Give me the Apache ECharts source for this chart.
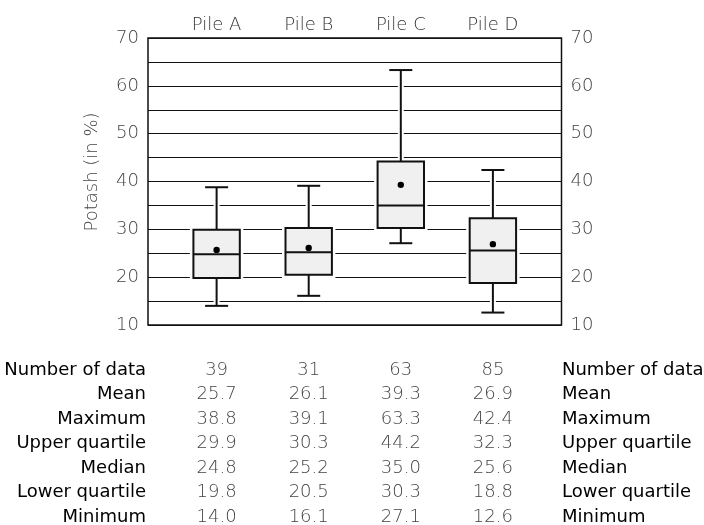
<!DOCTYPE html>
<html><head><meta charset="utf-8">
<script src="https://cdn.jsdelivr.net/npm/echarts@6/dist/echarts.min.js"></script>
<style>html,body{margin:0;padding:0;background:#fff}#c{width:704px;height:525px}</style>
</head><body><div id="c"></div>
<script>
const piles = ['Pile A', 'Pile B', 'Pile C', 'Pile D'];
const counts = [39, 31, 63, 85];
const means = [25.7, 26.1, 39.3, 26.9];
const maxima = [38.8, 39.1, 63.3, 42.4];
const upperQ = [29.9, 30.3, 44.2, 32.3];
const medians = [24.8, 25.2, 35.0, 25.6];
const lowerQ = [19.8, 20.5, 30.3, 18.8];
const minima = [14.0, 16.1, 27.1, 12.6];
const rowLabels = ['Number of data', 'Mean', 'Maximum', 'Upper quartile', 'Median', 'Lower quartile', 'Minimum'];
const rowValues = [counts, means, maxima, upperQ, medians, lowerQ, minima];
const yTicks = [10, 20, 30, 40, 50, 60, 70];
const yTitle = 'Potash (in %)';

const thinFont = '"DejaVu Sans", sans-serif';
const labelFont = '"DejaVu Sans", sans-serif';

const chart = echarts.init(document.getElementById('c'), null, {renderer: 'canvas'});

const yAxisCommon = {
  type: 'value', min: 10, max: 70, interval: 5,
  axisLine: {show: false}, axisTick: {show: false},
  axisLabel: {
    margin: 9, color: '#444', fontSize: 18, fontFamily: thinFont, fontWeight: 200,
    formatter: v => yTicks.includes(v) ? String(v) : ''
  }
};

const seriesData = piles.map((p, i) => [i, minima[i], lowerQ[i], medians[i], upperQ[i], maxima[i], means[i]]);

chart.setOption({
  animation: false,
  grid: {left: 148, right: 142.5, top: 38, bottom: 200, show: true, borderColor: '#111', borderWidth: 1.5, backgroundColor: 'transparent'},
  xAxis: {type: 'value', min: -0.745, max: 3.745, show: false},
  yAxis: [
    Object.assign({}, yAxisCommon, {position: 'left', splitLine: {show: true, lineStyle: {color: '#111', width: 1}}}),
    Object.assign({}, yAxisCommon, {position: 'right', splitLine: {show: false}})
  ],
  series: [{
    type: 'custom',
    clip: false,
    data: seriesData,
    encode: {x: 0, y: [1, 2, 3, 4, 5, 6]},
    renderItem: function (params, api) {
      const x = api.value(0);
      const cx = api.coord([x, api.value(3)])[0];
      const yy = v => api.coord([x, v])[1];
      const yMin = yy(api.value(1)), yQ1 = yy(api.value(2)), yMed = yy(api.value(3));
      const yQ3 = yy(api.value(4)), yMax = yy(api.value(5)), yMean = yy(api.value(6));
      const hw = 23.2, cw = 11.5;
      const blk = {stroke: '#111', lineWidth: 2, fill: null};
      const wht = {stroke: '#fff', lineWidth: 6, fill: null};
      return {
        type: 'group',
        children: [
          {type: 'line', shape: {x1: cx, y1: yQ3, x2: cx, y2: yMax}, style: wht},
          {type: 'line', shape: {x1: cx, y1: yQ1, x2: cx, y2: yMin}, style: wht},
          {type: 'rect', shape: {x: cx - hw, y: yQ3, width: 2 * hw, height: yQ1 - yQ3}, style: {fill: '#f0f0f0', stroke: '#fff', lineWidth: 7}},
          {type: 'line', shape: {x1: cx, y1: yQ3, x2: cx, y2: yMax}, style: blk},
          {type: 'line', shape: {x1: cx, y1: yQ1, x2: cx, y2: yMin}, style: blk},
          {type: 'line', shape: {x1: cx - cw, y1: yMax, x2: cx + cw, y2: yMax}, style: blk},
          {type: 'line', shape: {x1: cx - cw, y1: yMin, x2: cx + cw, y2: yMin}, style: blk},
          {type: 'rect', shape: {x: cx - hw, y: yQ3, width: 2 * hw, height: yQ1 - yQ3}, style: {fill: '#f0f0f0', stroke: '#111', lineWidth: 2}},
          {type: 'line', shape: {x1: cx - hw, y1: yMed, x2: cx + hw, y2: yMed}, style: blk},
          {type: 'circle', shape: {cx: cx, cy: yMean, r: 3.2}, style: {fill: '#000'}}
        ]
      };
    }
  }]
});

// Text annotations positioned via the chart's own x scale
const gfx = [];
const rowY0 = 370, rowStep = 24.5;
piles.forEach((p, i) => {
  const px = chart.convertToPixel({xAxisIndex: 0}, i);
  gfx.push({type: 'text', x: px, y: 25, style: {text: p, fill: '#333', font: '200 18px ' + thinFont, align: 'center', verticalAlign: 'middle'}});
  rowValues.forEach((arr, r) => {
    const v = arr[i];
    const txt = r === 0 ? String(v) : v.toFixed(1);
    gfx.push({type: 'text', x: px, y: rowY0 + r * rowStep, style: {text: txt, fill: '#444', font: '200 18px ' + thinFont, align: 'center', verticalAlign: 'middle'}});
  });
});
rowLabels.forEach((lab, r) => {
  gfx.push({type: 'text', x: 146, y: rowY0 + r * rowStep, style: {text: lab, fill: '#000', font: '18px ' + labelFont, align: 'right', verticalAlign: 'middle'}});
  gfx.push({type: 'text', x: 562, y: rowY0 + r * rowStep, style: {text: lab, fill: '#000', font: '18px ' + labelFont, align: 'left', verticalAlign: 'middle'}});
});
gfx.push({type: 'text', x: 92, y: 172, rotation: Math.PI / 2, style: {text: yTitle, fill: '#444', font: '200 18px ' + thinFont, align: 'center', verticalAlign: 'middle'}});
chart.setOption({graphic: gfx});
</script>
</body></html>
